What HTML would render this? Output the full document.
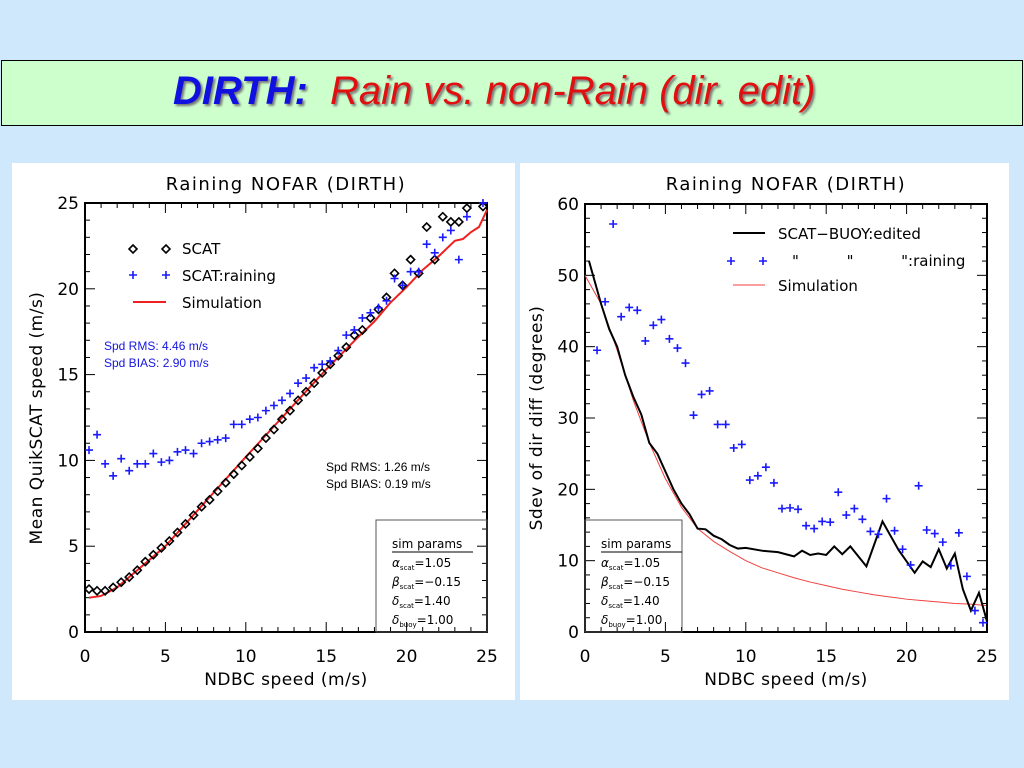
<!DOCTYPE html>
<html><head><meta charset="utf-8">
<style>
body{margin:0;width:1024px;height:768px;background:#cfe8fb;overflow:hidden;font-family:"Liberation Sans",sans-serif;position:relative}
#hdr{position:absolute;left:1px;top:60px;width:1020px;height:64px;background:#ccffcc;border:1px solid #000}
#hdr span{position:absolute;left:171px;top:8px;font-size:40px;font-style:italic;font-weight:bold;white-space:nowrap;text-shadow:2px 2px 2px #777}
.panel{position:absolute;background:#fff;top:163px;height:537px}
svg{position:absolute;left:0;top:0}
</style></head><body>
<div id="hdr"><span><span style="position:static;color:#1010e0">DIRTH:</span>&nbsp; <span style="position:static;color:#e01010;font-weight:normal">Rain vs. non-Rain (dir. edit)</span></span></div>
<div class="panel" style="left:12px;width:503px"></div>
<div class="panel" style="left:520px;width:489px"></div>
<svg width="1024" height="768" id="s" font-family="DejaVu Sans, sans-serif">
<g font-size="17" text-anchor="middle">
<text x="286" y="190" letter-spacing="1.5" font-size="18">Raining NOFAR (DIRTH)</text>
<text x="786" y="190" letter-spacing="1.5" font-size="18">Raining NOFAR (DIRTH)</text>
<text x="286" y="685" letter-spacing="0.5">NDBC speed (m/s)</text>
<text x="786" y="685" letter-spacing="0.5">NDBC speed (m/s)</text>
<text transform="translate(42,418) rotate(-90)" letter-spacing="0.5">Mean QuikSCAT speed (m/s)</text>
<text transform="translate(542,418) rotate(-90)" letter-spacing="0.5">Sdev of dir diff (degrees)</text>
</g>
<g font-size="15">
<text x="182" y="254">SCAT</text>
<text x="182" y="281">SCAT:raining</text>
<text x="182" y="308">Simulation</text>
<text x="778" y="239">SCAT−BUOY:edited</text>
<text x="792" y="266" xml:space="preserve">"          "          ":raining</text>
<text x="778" y="291">Simulation</text>
</g>
<g font-family="Liberation Sans, sans-serif" font-size="12">
<text x="104" y="350" fill="#1515e0">Spd RMS:  4.46 m/s</text>
<text x="104" y="367" fill="#1515e0">Spd BIAS:  2.90 m/s</text>
<text x="326" y="471">Spd RMS:  1.26 m/s</text>
<text x="326" y="488">Spd BIAS:  0.19 m/s</text>
</g>
<g id="g"></g>
</svg>
<script>
const S=document.getElementById('g');let h='';
function add(s){h+=s;}
function axes(x0,x1,y0,y1,ymax,ymaj,ymin){
 add(`<rect x="${x0}" y="${y1}" width="${x1-x0}" height="${y0-y1}" fill="none" stroke="#000" stroke-width="2"/>`);
 for(let v=0;v<=25;v++){const x=x0+(x1-x0)*v/25,L=v%5?5:10;
  add(`<line x1="${x}" y1="${y0}" x2="${x}" y2="${y0-L}" stroke="#000"/><line x1="${x}" y1="${y1}" x2="${x}" y2="${y1+L}" stroke="#000"/>`);
  if(v%5==0)add(`<text x="${x}" y="${y0+30}" font-size="17" text-anchor="middle">${v}</text>`);}
 for(let v=0;v<=ymax;v+=ymin){const y=y0-(y0-y1)*v/ymax,L=v%ymaj?5:10;
  add(`<line x1="${x0}" y1="${y}" x2="${x0+L}" y2="${y}" stroke="#000"/><line x1="${x1}" y1="${y}" x2="${x1-L}" y2="${y}" stroke="#000"/>`);
  if(v%ymaj==0)add(`<text x="${x0-6}" y="${y+6}" font-size="17" text-anchor="end">${v}</text>`);}
}
axes(85,487,632,203,25,5,1);
axes(585,987,632,204,60,10,2);
const LX=v=>85+v*16.08,LY=v=>632-v*17.16,RX=v=>585+v*16.08,RY=v=>632-v*7.133;
function dia(x,y){add(`<path d="M${x} ${y-4}L${x+4} ${y}L${x} ${y+4}L${x-4} ${y}Z" fill="none" stroke="#000" stroke-width="1.6"/>`);}
function plus(x,y){add(`<path d="M${x-4} ${y}H${x+4}M${x} ${y-4}V${y+4}" stroke="#1a1aff" stroke-width="1.6"/>`);}
function line(pts,fx,fy,c,w){add(`<polyline fill="none" stroke="${c}" stroke-width="${w}" points="${pts.map(p=>fx(p[0])+','+fy(p[1])).join(' ')}"/>`);}
const scat=[2.5,2.4,2.4,2.6,2.9,3.2,3.6,4.1,4.5,4.9,5.3,5.8,6.3,6.8,7.3,7.7,8.2,8.7,9.2,9.7,10.2,10.7,11.3,11.8,12.4,12.9,13.5,14.0,14.5,15.1,15.6,16.1,16.6,17.3,17.6,18.3,18.8,19.5,20.9,20.2,21.7,20.9,23.6,21.7,24.2,23.9,23.9,24.7,null,24.8];
const rain=[10.6,11.5,9.8,9.1,10.1,9.4,9.8,9.8,10.4,9.9,10.0,10.5,10.6,10.4,11.0,11.1,11.2,11.3,12.1,12.1,12.4,12.5,12.9,13.2,13.5,13.9,14.5,14.8,15.4,15.6,15.8,16.4,17.3,17.6,18.3,18.6,18.9,19.3,20.6,20.2,21.0,21.0,22.6,22.1,23.0,23.4,21.7,24.2,null,25];
line([[0.25,2.0],[1,2.1],[2,2.6],[3,3.4],[4,4.2],[5,5.0],[10,10.2],[15,15.3],[17,17.2],[18,18.1],[19,19.2],[20,20.1],[21,21.1],[22,21.9],[23,22.8],[23.5,22.9],[24,23.3],[24.5,23.6],[25,24.6]],LX,LY,'#ee2020',2);
scat.forEach((v,i)=>{if(v!=null)dia(LX(0.25+0.5*i),LY(v));});
rain.forEach((v,i)=>{if(v!=null)plus(LX(0.25+0.5*i),LY(v));});
dia(133,249);dia(166,249);plus(133,275);plus(166,275);
add('<line x1="133" y1="302" x2="166" y2="302" stroke="#ee2020" stroke-width="2"/>');
const rr=[null,39.5,46.3,57.2,44.2,45.5,45.1,40.8,43.0,43.8,41.1,39.8,37.7,30.4,33.3,33.8,29.1,29.1,25.8,26.3,21.3,21.9,23.1,20.9,17.3,17.4,17.2,14.9,14.5,15.5,15.4,19.6,16.4,17.3,15.8,14.1,13.7,18.7,14.2,11.6,9.4,20.5,14.3,13.8,12.6,9.3,13.9,7.8,3.0,1.3];
line([[0,50],[1,46],[2,39.5],[3,32.5],[4,26.5],[5,21.5],[6,17.5],[7,14.5],[8,12.7],[9,11.3],[10,10],[11,9.0],[12,8.3],[13,7.6],[14,7],[15,6.5],[16,6.0],[17,5.6],[18,5.2],[19,4.9],[20,4.6],[21,4.4],[22,4.2],[23,4.0],[24,3.9],[25,3.7]],RX,RY,'#f04040',1);
line([[0.25,52],[0.5,50],[1,46],[1.5,42.5],[2,40],[2.5,36],[3,33],[3.5,30.5],[4,26.5],[4.5,25],[5,22.5],[5.5,20],[6,18],[6.5,16.5],[7,14.5],[7.5,14.4],[8,13.5],[8.5,13],[9,12.2],[9.5,11.7],[10,11.8],[11,11.4],[12,11.2],[13,10.6],[13.5,11.4],[14,10.8],[14.5,11],[15,10.8],[15.5,12],[16,10.9],[16.5,12],[17.5,9.2],[18.5,15.5],[19.5,11.5],[20.5,8.3],[21,9.9],[21.5,9.1],[22,11.6],[22.5,8.9],[23,11],[23.5,6],[24,3],[24.5,5.5],[25,1.5],[25,8]],RX,RY,'#000',2);
rr.forEach((v,i)=>{if(v!=null)plus(RX(0.25+0.5*i),RY(v));});
plus(731,261);plus(763,261);
add('<line x1="733" y1="233" x2="765" y2="233" stroke="#000" stroke-width="2"/><line x1="733" y1="285" x2="765" y2="285" stroke="#f04040" stroke-width="1"/>');
function box(x,w){add(`<rect x="${x}" y="520" width="${w}" height="112" fill="none" stroke="#555" stroke-width="1"/>
<g font-family="DejaVu Sans,sans-serif" font-size="12"><text x="${x+16}" y="548">sim params</text><line x1="${x+16}" y1="552" x2="${x+97}" y2="552" stroke="#000"/>
<text x="${x+16}" y="567"><tspan font-style="italic">α</tspan><tspan font-size="7" dy="3">scat</tspan><tspan dy="-3">=1.05</tspan></text>
<text x="${x+16}" y="586"><tspan font-style="italic">β</tspan><tspan font-size="7" dy="3">scat</tspan><tspan dy="-3">=−0.15</tspan></text>
<text x="${x+16}" y="605"><tspan font-style="italic">δ</tspan><tspan font-size="7" dy="3">scat</tspan><tspan dy="-3">=1.40</tspan></text>
<text x="${x+16}" y="624"><tspan font-style="italic">δ</tspan><tspan font-size="7" dy="3">buoy</tspan><tspan dy="-3">=1.00</tspan></text></g>`);}
box(376,111);box(585,97);
S.innerHTML=h;
</script>
</body></html>
